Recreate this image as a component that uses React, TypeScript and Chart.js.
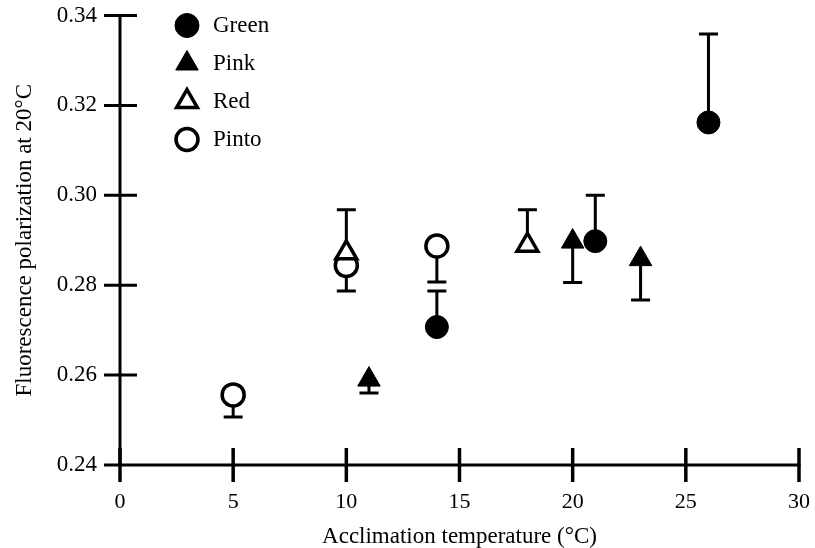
import React, { useEffect, useRef } from "react";
import { Chart, registerables } from "chart.js";
import { drawPoint } from "chart.js/helpers";

Chart.register(...registerables);

// ---- data ----
const seriesNames = ["Green", "Pink", "Red", "Pinto"];

const greenX = [14, 21, 26];
const greenY = [0.2707, 0.2898, 0.3162];
const greenErrEnd = [0.2787, 0.3, 0.3359];

const pinkX = [11, 20, 23];
const pinkY = [0.259, 0.2897, 0.2858];
const pinkErrEnd = [0.256, 0.2806, 0.2767];

const redX = [10, 18];
const redY = [0.2872, 0.2889];
const redErrEnd = [0.2968, 0.2968];

const pintoX = [5, 10, 14];
const pintoY = [0.2556, 0.2844, 0.2887];
const pintoErrEnd = [0.2507, 0.2787, 0.2807];

const xMin = 0;
const xMax = 30;
const xStep = 5;
const yMin = 0.24;
const yMax = 0.34;
const yStep = 0.02;

const xTitle = "Acclimation temperature (°C)";
const yTitle = "Fluorescence polarization at 20°C";

const FONT = "'Liberation Serif', 'Times New Roman', serif";

function pts(xs: number[], ys: number[]) {
  return xs.map((x, i) => ({ x, y: ys[i] }));
}

const crossAxesPlugin = {
  id: "crossAxes",
  beforeDatasetsDraw(chart: any) {
    const { ctx, scales } = chart;
    const xs = scales.x;
    const ys = scales.y;
    const x0 = xs.getPixelForValue(xs.min);
    const y0 = ys.getPixelForValue(ys.min);
    const yTop = ys.getPixelForValue(ys.max);
    const xRight = xs.getPixelForValue(xs.max);
    ctx.save();
    ctx.strokeStyle = "#000";
    ctx.lineWidth = 3;
    ctx.lineCap = "butt";
    ctx.beginPath();
    ctx.moveTo(x0, yTop);
    ctx.lineTo(x0, y0);
    ctx.moveTo(x0 - 16, y0);
    ctx.lineTo(xRight + 1.5, y0);
    ys.ticks.forEach((t: any) => {
      const py = ys.getPixelForValue(t.value);
      ctx.moveTo(x0 - 16, py);
      ctx.lineTo(x0 + 17, py);
    });
    ctx.stroke();
    ctx.lineWidth = 3.5;
    ctx.beginPath();
    xs.ticks.forEach((t: any) => {
      const px = xs.getPixelForValue(t.value);
      ctx.moveTo(px, y0 - 17);
      ctx.lineTo(px, y0 + 17);
    });
    ctx.stroke();
    ctx.restore();
  },
};

const errorBarPlugin = {
  id: "errorBars",
  beforeDatasetsDraw(chart: any) {
    const { ctx, scales } = chart;
    const xs = scales.x;
    const ys = scales.y;
    ctx.save();
    ctx.strokeStyle = "#000";
    ctx.lineWidth = 3;
    ctx.lineCap = "butt";
    chart.data.datasets.forEach((ds: any) => {
      const ends: number[] = ds.errorEnd || [];
      ds.data.forEach((p: any, i: number) => {
        const px = xs.getPixelForValue(p.x);
        const py = ys.getPixelForValue(p.y);
        const pe = ys.getPixelForValue(ends[i]);
        ctx.beginPath();
        ctx.moveTo(px, py);
        ctx.lineTo(px, pe);
        ctx.moveTo(px - 9.5, pe);
        ctx.lineTo(px + 9.5, pe);
        ctx.stroke();
      });
    });
    ctx.restore();
  },
};

const insideLegendPlugin = {
  id: "insideLegend",
  afterDatasetsDraw(chart: any) {
    const { ctx } = chart;
    const area = chart.chartArea;
    const mx = area.left + 67;
    const tx = area.left + 93;
    const y0 = area.top + 10;
    const dy = 38;
    ctx.save();
    chart.data.datasets.forEach((ds: any, i: number) => {
      const cy = y0 + i * dy;
      ctx.fillStyle = ds.backgroundColor;
      ctx.strokeStyle = ds.borderColor;
      ctx.lineWidth = ds.borderWidth;
      drawPoint(
        ctx,
        {
          pointStyle: ds.pointStyle,
          radius: ds.legendRadius,
          borderWidth: ds.borderWidth,
          rotation: 0,
        } as any,
        mx,
        cy
      );
      ctx.fillStyle = "#000";
      ctx.font = `23px ${FONT}`;
      ctx.textAlign = "left";
      ctx.textBaseline = "middle";
      ctx.fillText(ds.label, tx, cy);
    });
    ctx.restore();
  },
};

export default function App() {
  const canvasRef = useRef<HTMLCanvasElement | null>(null);

  useEffect(() => {
    document.body.style.margin = "0";
    const canvas = canvasRef.current;
    if (!canvas) return;
    Chart.defaults.font.family = FONT;
    Chart.defaults.color = "#000";

    const chart = new Chart(canvas, {
      type: "scatter",
      data: {
        datasets: [
          {
            label: seriesNames[0],
            data: pts(greenX, greenY),
            errorEnd: greenErrEnd,
            pointStyle: "circle",
            pointRadius: 11.5,
            legendRadius: 12,
            backgroundColor: "#000",
            borderColor: "#000",
            borderWidth: 1,
          } as any,
          {
            label: seriesNames[1],
            data: pts(pinkX, pinkY),
            errorEnd: pinkErrEnd,
            pointStyle: "triangle",
            pointRadius: 13,
            legendRadius: 13,
            backgroundColor: "#000",
            borderColor: "#000",
            borderWidth: 1,
          } as any,
          {
            label: seriesNames[2],
            data: pts(redX, redY),
            errorEnd: redErrEnd,
            pointStyle: "triangle",
            pointRadius: 12,
            legendRadius: 12,
            backgroundColor: "#fff",
            borderColor: "#000",
            borderWidth: 3.5,
          } as any,
          {
            label: seriesNames[3],
            data: pts(pintoX, pintoY),
            errorEnd: pintoErrEnd,
            pointStyle: "circle",
            pointRadius: 11,
            legendRadius: 11,
            backgroundColor: "#fff",
            borderColor: "#000",
            borderWidth: 3.5,
          } as any,
        ],
      },
      options: {
        animation: false,
        responsive: false,
        layout: { padding: { top: 15, right: 16, bottom: 0, left: 0 } },
        plugins: {
          legend: { display: false },
          tooltip: { enabled: false },
        },
        scales: {
          x: {
            type: "linear",
            min: xMin,
            max: xMax,
            border: { display: false },
            grid: { display: false, drawTicks: false },
            ticks: {
              stepSize: xStep,
              padding: 24,
              font: { size: 22, family: FONT },
              color: "#000",
            },
            title: {
              display: true,
              text: xTitle,
              font: { size: 23, family: FONT, lineHeight: 1 },
              padding: { top: 0, bottom: 0 },
              color: "#000",
            },
            afterFit(scale: any) {
              scale.height = 83;
              scale.paddingLeft = 0;
              scale.paddingRight = 0;
            },
          },
          y: {
            type: "linear",
            min: yMin,
            max: yMax,
            border: { display: false },
            grid: { display: false, drawTicks: false },
            ticks: {
              stepSize: yStep,
              padding: 23,
              font: { size: 23, family: FONT },
              color: "#000",
              callback: (v: any) => Number(v).toFixed(2),
            },
            title: {
              display: true,
              text: yTitle,
              font: { size: 23, family: FONT, lineHeight: 1 },
              padding: { top: 13, bottom: 0 },
              color: "#000",
            },
            afterFit(scale: any) {
              scale.width = 120;
              scale.paddingTop = 0;
              scale.paddingBottom = 0;
            },
          },
        },
      } as any,
      plugins: [crossAxesPlugin, errorBarPlugin, insideLegendPlugin],
    });

    return () => {
      chart.destroy();
    };
  }, []);

  return (
    <div style={{ width: 815, height: 548, position: "relative" }}>
      <canvas
        ref={canvasRef}
        width={815}
        height={548}
        style={{ display: "block", width: 815, height: 548 }}
      />
    </div>
  );
}
